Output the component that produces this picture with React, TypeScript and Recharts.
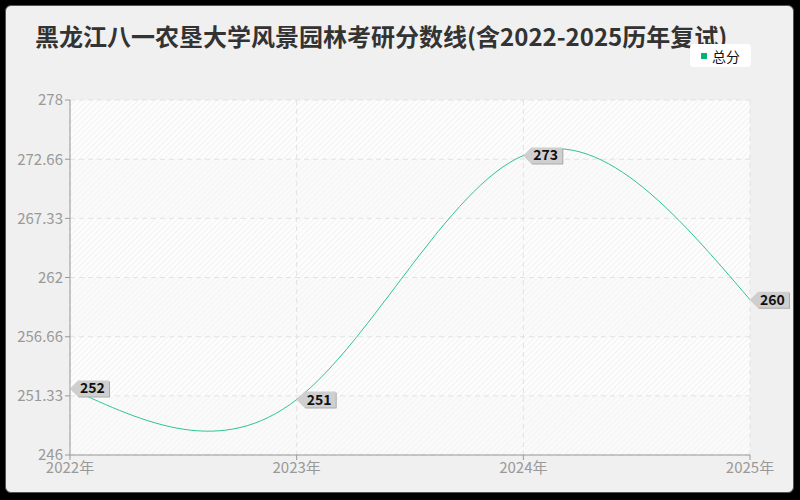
import { LineChart, Line, XAxis, YAxis, CartesianGrid, LabelList } from "recharts";

const years = ["2022年", "2023年", "2024年", "2025年"];
const totalScores = [252, 251, 273, 260];
const yTicks = [246, 251.33, 256.66, 262, 267.33, 272.66, 278];

const data = years.map((year, i) => ({ year, total: totalScores[i] }));

const LINE_COLOR = "#2ec495";
const FONT = "'Noto Sans CJK SC', 'Noto Sans', sans-serif";

function TagLabel({ x, y, value }: any) {
  const w = 39;
  const h = 16;
  const pts = (dx: number, dy: number) =>
    [
      [x + dx, y + dy],
      [x + 8 + dx, y - h / 2 + dy],
      [x + w + dx, y - h / 2 + dy],
      [x + w + dx, y + h / 2 + dy],
      [x + 8 + dx, y + h / 2 + dy],
    ]
      .map((p) => p.join(","))
      .join(" ");
  return (
    <g>
      <polygon points={pts(1, 1)} fill="#aaaaaa" />
      <polygon points={pts(0, 0)} fill="#cfcfcf" />
      <text x={x + 10} y={y + 5} fontSize={14} fontWeight="bold" fill="#111" fontFamily={FONT}>
        {value}
      </text>
    </g>
  );
}

export default function App() {
  return (
    <div style={{ position: "fixed", left: 0, top: 0, width: 800, height: 500, background: "#000" }}>
      <div
        style={{
          position: "absolute",
          left: 5,
          top: 5,
          width: 787,
          height: 486,
          background: "#f0f0f0",
          border: "1px solid #555",
          borderRadius: 6,
        }}
      />
      <div
        style={{
          position: "absolute",
          left: 35,
          top: 19,
          fontFamily: FONT,
          fontWeight: "bold",
          fontSize: 24,
          lineHeight: "34px",
          color: "#333",
          whiteSpace: "nowrap",
        }}
      >
        黑龙江八一农垦大学风景园林考研分数线(含2022-2025历年复试)
      </div>
      <div
        style={{
          position: "absolute",
          left: 690,
          top: 44,
          background: "#fff",
          borderRadius: 4,
          width: 61,
          height: 23,
          display: "flex",
          alignItems: "center",
          justifyContent: "center",
          gap: 5,
          fontFamily: FONT,
          fontSize: 14,
          color: "#111",
        }}
      >
        <span style={{ width: 6, height: 6, background: "#00b377", display: "inline-block" }} />
        <span>总分</span>
      </div>
      <div style={{ position: "absolute", left: 0, top: 0 }}>
        <LineChart width={800} height={500} data={data} margin={{ top: 100, right: 50, bottom: 15, left: 10 }}>
          <defs>
            <pattern id="hatchDark" width="4" height="4" patternUnits="userSpaceOnUse" patternTransform="rotate(45)">
              <rect width="4" height="4" fill="#fdfdfd" />
              <line x1="0" y1="0" x2="0" y2="4" stroke="#ebebeb" strokeWidth="1.2" />
            </pattern>
            <pattern id="hatchLight" width="4" height="4" patternUnits="userSpaceOnUse" patternTransform="rotate(45)">
              <rect width="4" height="4" fill="#fafafa" />
              <line x1="0" y1="0" x2="0" y2="4" stroke="#f1f1f1" strokeWidth="1.2" />
            </pattern>
          </defs>
          <CartesianGrid
            stroke="#e2e2e2"
            strokeDasharray="5 4"
            horizontalFill={["url(#hatchDark)", "url(#hatchLight)"]}
            fillOpacity={1}
          />
          <XAxis
            dataKey="year"
            height={30}
            tick={{ fontSize: 15, fill: "#999", fontFamily: FONT }}
            stroke="#999"
            tickSize={5}
            tickMargin={2}
          />
          <YAxis
            domain={[246, 278]}
            ticks={yTicks}
            width={60}
            interval={0}
            tick={{ fontSize: 15, fill: "#999", fontFamily: FONT }}
            stroke="#999"
            tickSize={5}
            tickMargin={2}
          />
          <Line
            type="natural"
            dataKey="total"
            name="总分"
            stroke={LINE_COLOR}
            strokeWidth={1}
            dot={false}
            activeDot={false}
            isAnimationActive={false}
          >
            <LabelList dataKey="total" content={<TagLabel />} />
          </Line>
        </LineChart>
      </div>
    </div>
  );
}
